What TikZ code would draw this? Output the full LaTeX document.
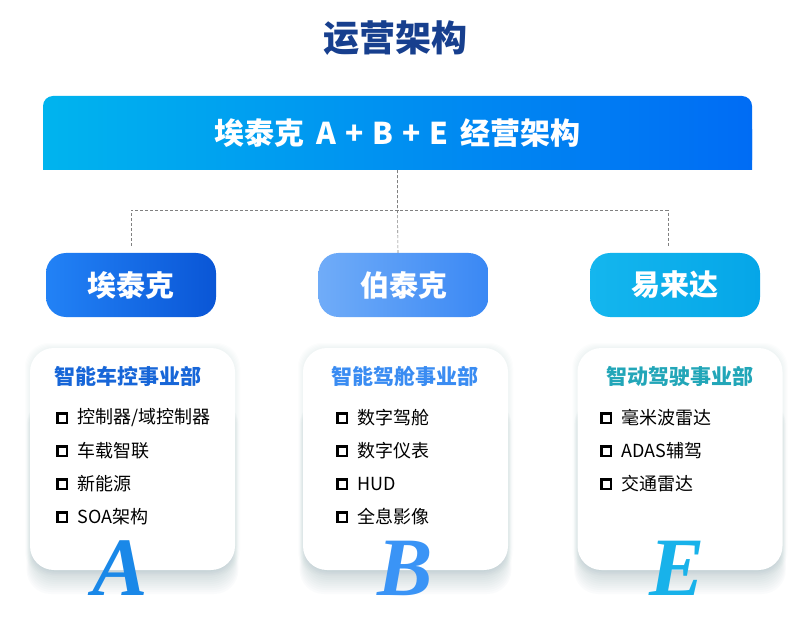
\documentclass[tikz,border=0pt]{standalone}
\usepackage{fontspec}
\setmainfont{Liberation Serif}
\newfontfamily\cjk{Noto Sans CJK SC}
\usetikzlibrary{positioning}

\definecolor{navy}{HTML}{173F8E}
\definecolor{bannerL}{HTML}{00B4EE}
\definecolor{bannerR}{HTML}{006CF4}
\definecolor{etkL}{HTML}{2282F6}
\definecolor{etkR}{HTML}{0A56D6}
\definecolor{btkL}{HTML}{70ACF8}
\definecolor{btkR}{HTML}{3A88F4}
\definecolor{yldL}{HTML}{14B6EE}
\definecolor{yldR}{HTML}{05A6E8}
\definecolor{headA}{HTML}{1766D8}
\definecolor{headB}{HTML}{3A8CF2}
\definecolor{headE}{HTML}{22A6B8}
\definecolor{letA}{HTML}{1A88E8}
\definecolor{letB}{HTML}{3A94F6}
\definecolor{letE}{HTML}{18B2EA}
\definecolor{shadowc}{HTML}{7F9CA6}

\begin{document}
\begin{tikzpicture}[x=1pt,y=-1pt,
	company/.style={rounded corners=20pt,minimum width=170pt,minimum height=64pt,text=white,font=\cjk\bfseries\fontsize{29}{30}\selectfont},
	card/.style={fill=white,rounded corners=24pt,minimum width=205pt,minimum height=222pt},
	head/.style={font=\cjk\bfseries\fontsize{21}{22}\selectfont},
	item/.style={font=\cjk\fontsize{18}{20}\selectfont},
	tick/.style={draw=black,line width=2.5pt,minimum size=9.5pt,inner sep=0pt},
	letter/.style={font=\bfseries\itshape\fontsize{83}{83}\selectfont},
	link/.style={densely dashed,gray,line width=0.6pt}]
				\useasboundingbox[fill=white] (0,0) rectangle (811,628);

				\node[font=\cjk\bfseries\fontsize{36}{36}\selectfont,text=navy] (title) at (395,38) {运营架构};

				% banner
				\shade[left color=bannerL,right color=bannerR,rounded corners=10pt] (43,96) rectangle (752,170);
				\shade[left color=bannerL,right color=bannerR] (43,130) rectangle (752,170);
				\node[minimum width=709pt,minimum height=74pt,text=white,font=\cjk\bfseries\fontsize{30}{30}\selectfont] (top) at (397.5,133) {埃泰克\hspace{0.4em}A\hspace{0.3em}+\hspace{0.3em}B\hspace{0.3em}+\hspace{0.3em}E\hspace{0.4em}经营架构};

				% companies
				\node[company,left color=etkL,right color=etkR] (etk) at (131,285) {埃泰克};
				\node[company,left color=btkL,right color=btkR] (btk) at (403.5,285) {伯泰克};
				\node[company,left color=yldL,right color=yldR] (yld) at (675,285) {易来达};

				\draw[link] (top.south) -- ++(0,40) coordinate (hub) -- ([xshift=-5.5pt]btk.north);
				\draw[link] ([yshift=7pt]etk.north) -- (etk.north |- hub) -- (hub) -- ([xshift=-7pt]yld.north |- hub) -- ([xshift=-7pt,yshift=7pt]yld.north);

				% cards
				\foreach \cx in {132.5,405.5,680}
				{
					\foreach \s in {1,...,5}
						\fill[shadowc,opacity=0.018,rounded corners=24pt] (\cx-102.5-\s,348-\s) rectangle (\cx+102.5+\s,570+\s);
					\foreach \s in {1,...,14}
						\fill[shadowc,opacity=0.03,rounded corners=24pt] (\cx-96-0.7*\s,400) rectangle (\cx+96+0.7*\s,566+2*\s);
				}
				\node[card] (cardA) at (132.5,459) {};
				\node[card] (cardB) at (405.5,459) {};
				\node[card] (cardE) at (680,459) {};

				\node[head,text=headA] (hA) at (128,376) {智能车控事业部};
				\node[head,text=headB] (hB) at (405,376) {智能驾舱事业部};
				\node[head,text=headE] (hE) at (680,376) {智动驾驶事业部};

				\foreach \t [count=\i] in {控制器/域控制器,车载智联,新能源,SOA架构}
				{
					\node[tick] (ba\i) at (62,385+33*\i) {};
					\node[item,right=6pt of ba\i] (ta\i) {\t};
				}
				\foreach \t [count=\i] in {数字驾舱,数字仪表,HUD,全息影像}
				{
					\node[tick] (bb\i) at (342,385+33*\i) {};
					\node[item,right=6pt of bb\i] (tb\i) {\t};
				}
				\foreach \t [count=\i] in {毫米波雷达,ADAS辅驾,交通雷达}
				{
					\node[tick] (be\i) at (606,385+33*\i) {};
					\node[item,right=6pt of be\i] (te\i) {\t};
				}

				\node[letter,text=letA] (LA) at (120,568) {A};
				\node[letter,text=letB] (LB) at (405,568) {B};
				\node[letter,text=letE] (LE) at (677,568) {E};
			\end{tikzpicture}
\end{document}
